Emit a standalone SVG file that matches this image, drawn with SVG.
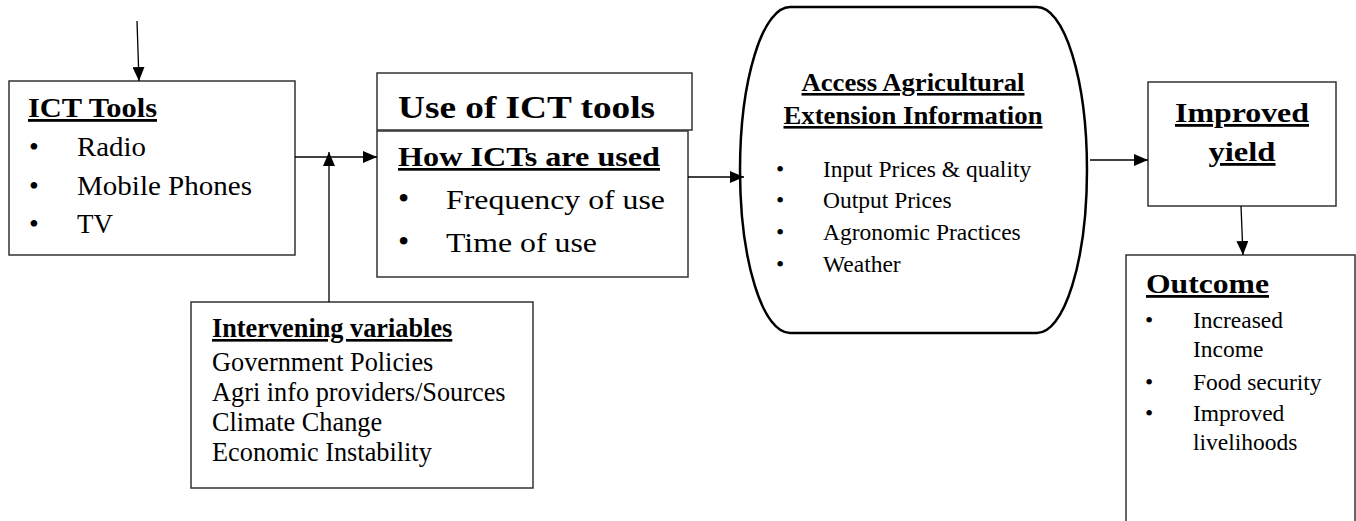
<svg xmlns="http://www.w3.org/2000/svg" width="1356" height="521" viewBox="0 0 1356 521">
<defs>
<marker id="ah" markerWidth="14" markerHeight="12" refX="14" refY="6" orient="auto" markerUnits="userSpaceOnUse">
<path d="M0,0 L14,6 L0,12 z" fill="#000"/>
</marker>
<style>
.box{fill:#fff;stroke:#333;stroke-width:1.5}
.shape{fill:#fff;stroke:#000;stroke-width:2.5}
.t{font-family:"Liberation Serif","Times New Roman",serif;fill:#000}
.b{font-weight:bold}
.u{text-decoration:underline}
.con{stroke:#000;stroke-width:1.3;fill:none;marker-end:url(#ah)}
</style>
</defs>
<rect width="1356" height="521" fill="#fff"/>

<g id="ict-tools">
<rect class="box" x="9" y="81" width="286" height="174"/>
<text class="t b u" x="28" y="117" font-size="28" textLength="129" lengthAdjust="spacingAndGlyphs">ICT Tools</text>
<g class="t">
<text x="29" y="156" font-size="28">•</text><text x="77" y="156" font-size="26.3" textLength="69" lengthAdjust="spacingAndGlyphs">Radio</text>
<text x="29" y="195" font-size="28">•</text><text x="77" y="195" font-size="26.3" textLength="175" lengthAdjust="spacingAndGlyphs">Mobile Phones</text>
<text x="29" y="233" font-size="28">•</text><text x="77" y="233" font-size="26.3" textLength="36" lengthAdjust="spacingAndGlyphs">TV</text>
</g>
</g>

<g id="use-of-ict">
<rect class="box" x="377" y="73" width="315" height="57"/>
<rect class="box" x="377" y="131" width="311" height="146"/>
<text class="t b" x="398" y="118" font-size="32" textLength="257" lengthAdjust="spacingAndGlyphs">Use of ICT tools</text>
<text class="t b u" x="398" y="166" font-size="27" textLength="262" lengthAdjust="spacingAndGlyphs">How ICTs are used</text>
<g class="t">
<text x="398" y="209" font-size="32">•</text><text x="446" y="209" font-size="26.3" textLength="219" lengthAdjust="spacingAndGlyphs">Frequency of use</text>
<text x="398" y="252" font-size="32">•</text><text x="446" y="252" font-size="26.3" textLength="151" lengthAdjust="spacingAndGlyphs">Time of use</text>
</g>
</g>

<g id="access-info">
<path class="shape" d="M790,7 L1037,7 A50,163 0 0 1 1037,333 L790,333 A50,163 0 0 1 790,7 Z"/>
<text class="t b u" x="913" y="91" font-size="26" text-anchor="middle" textLength="223" lengthAdjust="spacingAndGlyphs">Access Agricultural</text>
<text class="t b u" x="913" y="124" font-size="26" text-anchor="middle" textLength="259" lengthAdjust="spacingAndGlyphs">Extension Information</text>
<g class="t" font-size="23.5">
<text x="776" y="177">•</text><text x="823" y="177">Input Prices &amp; quality</text>
<text x="776" y="208">•</text><text x="823" y="208">Output Prices</text>
<text x="776" y="240">•</text><text x="823" y="240">Agronomic Practices</text>
<text x="776" y="272">•</text><text x="823" y="272">Weather</text>
</g>
</g>

<g id="improved-yield">
<rect class="box" x="1148" y="82" width="188" height="124"/>
<text class="t b u" x="1242" y="122" font-size="28" text-anchor="middle" textLength="134" lengthAdjust="spacingAndGlyphs">Improved</text>
<text class="t b u" x="1242" y="161" font-size="28" text-anchor="middle" textLength="67" lengthAdjust="spacingAndGlyphs">yield</text>
</g>

<g id="outcome">
<rect class="box" x="1126" y="255" width="229" height="290"/>
<text class="t b u" x="1146" y="293" font-size="28" textLength="123" lengthAdjust="spacingAndGlyphs">Outcome</text>
<g class="t" font-size="23.5">
<text x="1145" y="328">•</text><text x="1193" y="328">Increased</text>
<text x="1193" y="357">Income</text>
<text x="1145" y="390">•</text><text x="1193" y="390">Food security</text>
<text x="1145" y="421">•</text><text x="1193" y="421">Improved</text>
<text x="1193" y="450">livelihoods</text>
</g>
</g>

<g id="intervening">
<rect class="box" x="191" y="302" width="342" height="186"/>
<text class="t b u" x="212" y="337" font-size="26.3">Intervening variables</text>
<g class="t" font-size="26.3">
<text x="212" y="371">Government Policies</text>
<text x="212" y="401">Agri info providers/Sources</text>
<text x="212" y="431">Climate Change</text>
<text x="212" y="461">Economic Instability</text>
</g>
</g>

<g id="connectors">
<line class="con" x1="137" y1="21" x2="139" y2="81"/>
<line class="con" x1="295" y1="157" x2="377" y2="157"/>
<line class="con" x1="329" y1="302" x2="329" y2="152"/>
<line class="con" x1="688" y1="177" x2="744" y2="177"/>
<line class="con" x1="1090" y1="160" x2="1148" y2="160"/>
<line class="con" x1="1241" y1="206" x2="1243" y2="255"/>
</g>
</svg>
